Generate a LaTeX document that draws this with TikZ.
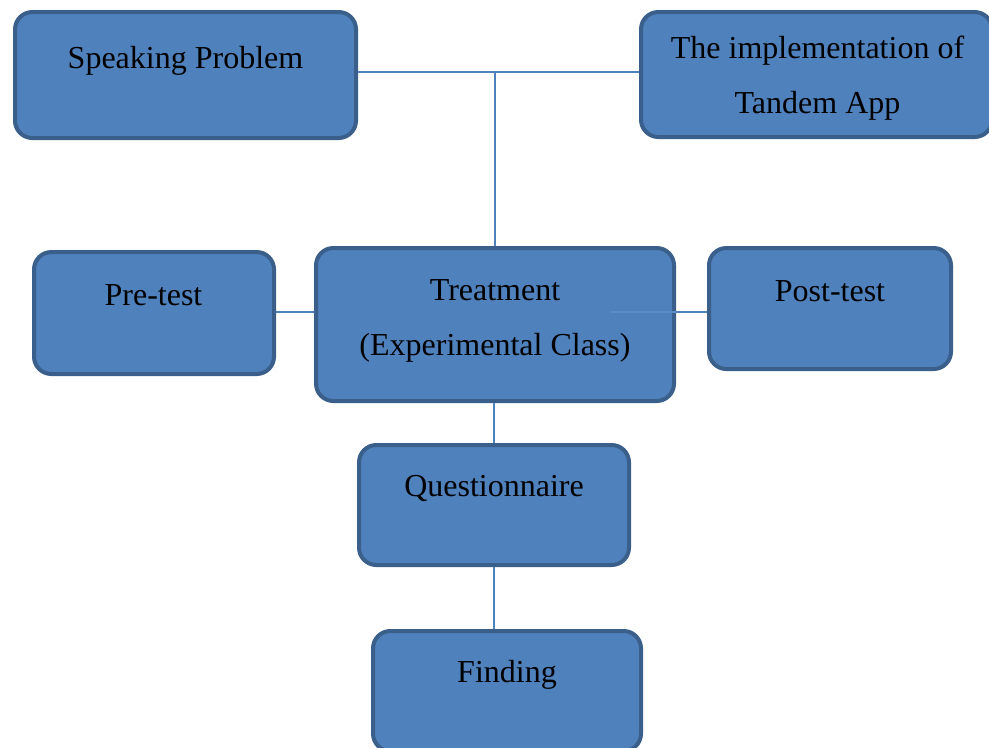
\documentclass[tikz,border=0pt]{standalone}
\usepackage{fontspec}
\setmainfont{Liberation Serif}
\usepackage{tikz}
\usetikzlibrary{calc}
\definecolor{boxfill}{HTML}{4F81BD}
\definecolor{boxedge}{HTML}{3A5F8B}
\definecolor{linkblue}{HTML}{4F81BD}
\definecolor{innerblue}{HTML}{5A8CC6}
\newdimen\pxu \pxu=0.375pt
\tikzset{
  stagebox/.style={
    rectangle,
    rounded corners=6.5pt,
    draw=boxedge,
    fill=boxfill,
    line width=1.5pt,
    inner sep=0pt
  },
  stagetext/.style={
    anchor=base,
    align=center,
    inner sep=0pt,
    font=\fontsize{12}{20.5}\selectfont
  },
  link/.style={
    draw=linkblue,
    line width=0.6pt
  }
}

\begin{document}
\begin{tikzpicture}[x=0.375pt, y=-0.375pt]
\useasboundingbox (0,0) rectangle (989,747);
% boxes
\node[stagebox, minimum width=341\pxu, minimum height=126\pxu] (prob) at (185.5,75) {};
\node[stagebox, minimum width=351\pxu, minimum height=125\pxu] (impl) at (816.5,74.5) {};
\node[stagebox, minimum width=240\pxu, minimum height=122\pxu] (pre) at (154,313) {};
\node[stagebox, minimum width=358\pxu, minimum height=153\pxu] (treat) at (495,324.5) {};
\node[stagebox, minimum width=242\pxu, minimum height=121\pxu] (post) at (830,308.5) {};
\node[stagebox, minimum width=270\pxu, minimum height=120\pxu] (quest) at (494,505) {};
\node[stagebox, minimum width=268\pxu, minimum height=120\pxu] (find) at (507,691) {};
% texts (base = last line)
\node[stagetext] (probtxt) at (185.5,68) {Speaking Problem};
\node[stagetext] (impltxt) at (817.5,113) {The implementation of\\Tandem App};
\node[stagetext] (pretxt) at (153.5,305) {Pre-test};
\node[stagetext] (treattxt) at (495,355) {Treatment\\(Experimental Class)};
\node[stagetext] (posttxt) at (830,301) {Post-test};
\node[stagetext] (questtxt) at (494,496) {Questionnaire};
\node[stagetext] (findtxt) at (507,682) {Finding};
% connectors
\coordinate (top) at (495,72);
\coordinate (inner) at (611,312);
\draw[link] (top -| prob.east) -- (top -| impl.west);
\draw[link] (top) -- (top |- treat.north);
\draw[link] (inner -| pre.east) -- (inner -| treat.west);
\draw[link, draw=innerblue] (inner) -- (inner -| treat.east);
\draw[link] (inner -| treat.east) -- (inner -| post.west);
\draw[link] (quest.north |- treat.south) -- (quest.north);
\draw[link] (quest.south) -- (quest.south |- find.north);
\end{tikzpicture}
\end{document}
